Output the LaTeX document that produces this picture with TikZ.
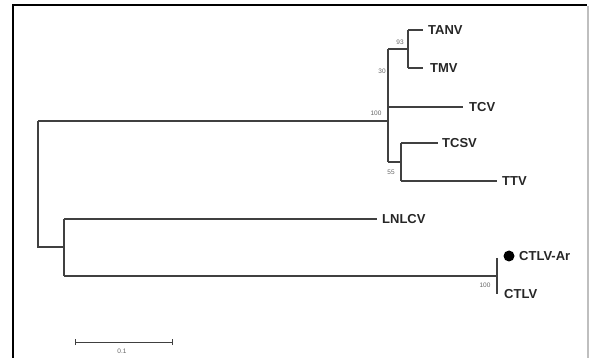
\documentclass[tikz,border=0pt]{standalone}
\usepackage{fontspec}
\setmainfont{Liberation Sans}
\begin{document}
\begin{tikzpicture}[x=1pt,y=-1pt,
  br/.style={draw=black!75,line width=1.4pt},
  taxon/.style={anchor=west,inner sep=0pt,font=\fontsize{13}{13}\selectfont\bfseries,text=black!85},
  boot/.style={inner sep=0pt,font=\fontsize{6.5}{6.5}\selectfont,text=black!60}]
\useasboundingbox (0,0) rectangle (592,358);
% frame
\draw[line width=1.5pt,black] (13,358) -- (13,5) -- (587,5);
\draw[line width=2.5pt,black!25] (588,6) -- (588,358);
% inner node coordinates
\coordinate (r) at (38,247);
\coordinate (a) at (38,121);
\coordinate (b) at (64,247);
\coordinate (n100) at (388,121);
\coordinate (n30) at (388,49);
\coordinate (n93) at (408,49);
\coordinate (n55) at (388,162);
\coordinate (n55b) at (401,162);
\coordinate (nc) at (497,276);
% taxa
\node[taxon] (TANV) at (428,30) {TANV};
\node[taxon] (TMV) at (430,68) {TMV};
\node[taxon] (TCV) at (469,107) {TCV};
\node[taxon] (TCSV) at (442,143) {TCSV};
\node[taxon] (TTV) at (502,181) {TTV};
\node[taxon] (LNLCV) at (382,219) {LNLCV};
\node[taxon] (CTLVAr) at (519,256) {CTLV-Ar};
\node[taxon] (CTLV) at (504,294) {CTLV};
\fill[black] (509,256) circle (5.5);
% branches
\draw[br] (a) -- (r) -- (b);
\draw[br] (a) -- (n100);
\draw[br] (n30) -- (n55);
\draw[br] (n30) -- (n93);
\draw[br] (n93 |- TANV) -- (n93 |- TMV);
\draw[br] (n93 |- TANV) -- ([xshift=-5pt]TANV.west);
\draw[br] (n93 |- TMV) -- ([xshift=-7pt]TMV.west);
\draw[br] (n30 |- TCV) -- ([xshift=-6pt]TCV.west);
\draw[br] (n55) -- (n55b);
\draw[br] (n55b |- TCSV) -- (n55b |- TTV);
\draw[br] (n55b |- TCSV) -- ([xshift=-4pt]TCSV.west);
\draw[br] (n55b |- TTV) -- ([xshift=-5pt]TTV.west);
\draw[br] (b |- LNLCV) -- (b |- nc);
\draw[br] (b |- LNLCV) -- ([xshift=-5pt]LNLCV.west);
\draw[br] (b |- nc) -- (nc);
\draw[br] (497,258) -- (497,294);
% bootstrap values
\node[boot] (b93) at (400,42) {93};
\node[boot] (b30) at (382,71) {30};
\node[boot] (b100a) at (376,113) {100};
\node[boot] (b55) at (391,172) {55};
\node[boot] (b100b) at (485,285) {100};
% scale bar
\coordinate (s1) at (75,342);
\coordinate (s2) at (172,342);
\draw[line width=1pt,black!75] (s1) -- (s2);
\draw[line width=1pt,black!75] ([yshift=-3pt]s1) -- ([yshift=3pt]s1);
\draw[line width=1pt,black!75] ([yshift=-3pt]s2) -- ([yshift=3pt]s2);
\node[boot] (sc) at (122,351) {0.1};
\end{tikzpicture}
\end{document}
